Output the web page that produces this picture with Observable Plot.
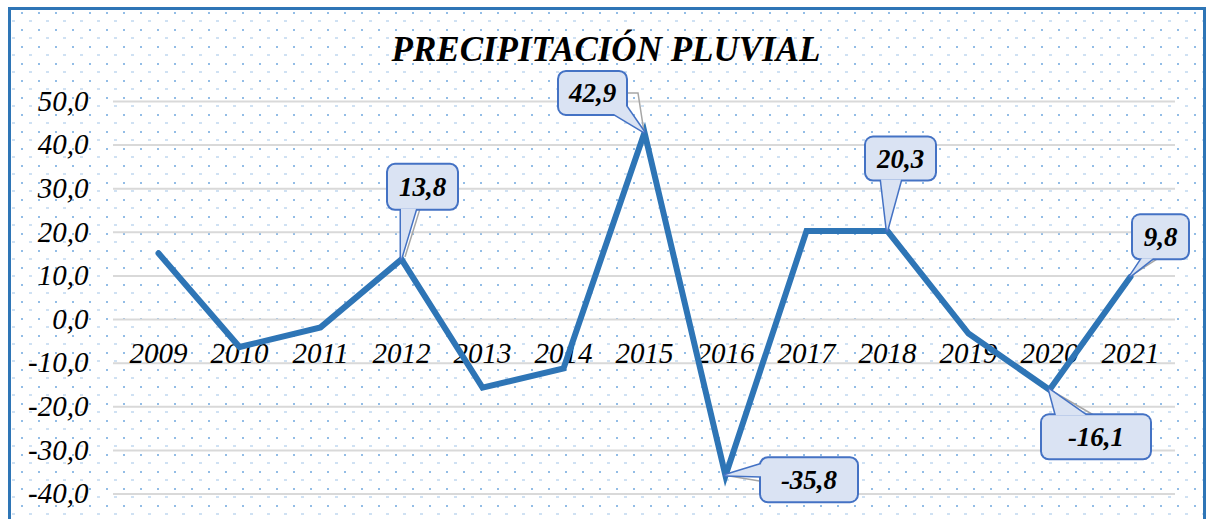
<!DOCTYPE html>
<html><head><meta charset="utf-8">
<script src="https://cdn.jsdelivr.net/npm/d3@7"></script>
<script src="https://cdn.jsdelivr.net/npm/@observablehq/plot@0.6"></script>
<style>
html,body{margin:0;padding:0;background:#fff;width:1208px;height:519px;overflow:hidden;}
#frame{position:absolute;left:8px;top:7px;width:1198px;height:560px;box-sizing:border-box;border:3px solid #2E75B6;
background-image:url("data:image/svg+xml,%3Csvg xmlns='http://www.w3.org/2000/svg' width='17' height='17'%3E%3Crect x='3' y='2' width='2' height='2' fill='%2393bde6'/%3E%3Crect x='11' y='10.5' width='3' height='1' fill='%239fc3e8'/%3E%3C/svg%3E");
background-position:7px 0;}
#chart{position:absolute;left:0;top:0;}
#title{position:absolute;left:0;width:1212px;top:31.5px;text-align:center;font:italic bold 35px/1 "Liberation Serif","Times New Roman",serif;color:#000;}
</style></head><body>
<div id="frame"></div>
<div id="chart"></div>
<div id="title">PRECIPITACIÓN PLUVIAL</div>
<script>
const years = [2009, 2010, 2011, 2012, 2013, 2014, 2015, 2016, 2017, 2018, 2019, 2020, 2021];
const values = [15.2, -6.3, -1.8, 13.8, -15.6, -11.2, 42.9, -35.8, 20.3, 20.3, -3.2, -16.1, 9.8];
const yTicks = [50, 40, 30, 20, 10, 0, -10, -20, -30, -40];
const labeledYears = [2012, 2015, 2016, 2018, 2020, 2021];

const data = years.map((year, i) => ({year, value: values[i]}));
const fmt = v => v.toFixed(1).replace(".", ",");
const serif = '"Liberation Serif","Times New Roman",serif';

// callout layout (pixel offsets relative to the data point) — styling only
const calloutLayout = {
  2012: {box: [-13, -94, 69, 44], tail: [[0, -50], [15, -50]], leader: [[4, -2], [19, -50]]},
  2015: {box: [-85, -60, 67, 42], tail: [[-30, -18], [-18, -26]], leader: [[0, 0], [-6, -39], [-18, -39]]},
  2016: {box: [36, -17, 96, 43], tail: [[36, -11], [36, 1]], leader: [[0, 0], [36, 6]]},
  2018: {box: [-21, -93, 69, 42], tail: [[-6, -51], [14, -51]], leader: [[0, 0], [13, -51]]},
  2020: {box: [-7, 26, 108, 43], tail: [[7, 26], [37, 26]], leader: [[0, 0], [45, 26]]},
  2021: {box: [3, -61, 55, 43], tail: [[12, -18], [23, -18]], leader: [[0, 0], [28, -18]]}
};

function callouts(index, scales) {
  const g = d3.create("svg:g");
  const pts = labeledYears.map(yr => {
    const d = data.find(e => e.year === yr);
    return {d, px: scales.x(yr), py: scales.y(d.value), L: calloutLayout[yr]};
  });
  for (const p of pts) {
    g.append("polyline")
      .attr("points", p.L.leader.map(([a, b]) => `${p.px + a},${p.py + b}`).join(" "))
      .attr("fill", "none").attr("stroke", "#a6a6a6").attr("stroke-width", 1.5);
  }
  for (const p of pts) {
    const [bx, by, bw, bh] = p.L.box;
    const cg = g.append("g").attr("transform", `translate(${p.px},${p.py})`);
    const tailPts = `0,0 ${p.L.tail[0].join(",")} ${p.L.tail[1].join(",")}`;
    cg.append("rect").attr("x", bx).attr("y", by).attr("width", bw).attr("height", bh)
      .attr("rx", 7).attr("fill", "none").attr("stroke", "#4472C4").attr("stroke-width", 4);
    cg.append("polygon").attr("points", tailPts).attr("fill", "none")
      .attr("stroke", "#4472C4").attr("stroke-width", 3).attr("stroke-linejoin", "round");
    cg.append("rect").attr("x", bx).attr("y", by).attr("width", bw).attr("height", bh)
      .attr("rx", 7).attr("fill", "#DAE3F3");
    cg.append("polygon").attr("points", tailPts).attr("fill", "#DAE3F3");
    cg.append("text").attr("x", bx + bw / 2).attr("y", by + bh / 2).attr("dy", "0.35em")
      .attr("text-anchor", "middle").attr("font-family", serif).attr("font-size", 27)
      .attr("font-style", "italic").attr("font-weight", "bold").attr("fill", "#000")
      .text(fmt(p.d.value));
  }
  return g.node();
}

const chart = Plot.plot({
  width: 1208,
  height: 519,
  marginLeft: 113,
  marginRight: 33,
  marginTop: 101,
  marginBottom: 25.5,
  style: {background: "transparent", overflow: "visible"},
  x: {type: "point", domain: years, padding: 0.5, axis: null},
  y: {domain: [-40, 50], axis: null},
  marks: [
    Plot.ruleY(yTicks, {stroke: "#d9d9d9", strokeWidth: 2}),
    Plot.text(yTicks, {y: d => d, text: d => fmt(d), frameAnchor: "left", textAnchor: "end", dx: -25,
      fontSize: 29, fontStyle: "italic", fontFamily: serif, fill: "#000"}),
    Plot.text(years, {x: d => d, y: () => 0, text: d => String(d), dy: 34,
      fontSize: 29, fontStyle: "italic", fontFamily: serif, fill: "#000"}),
    Plot.line(data, {x: "year", y: "value", stroke: "#2E75B6", strokeWidth: 6,
      strokeLinejoin: "miter", strokeMiterlimit: 10, strokeLinecap: "round"}),
    callouts
  ]
});
document.getElementById("chart").appendChild(chart);
</script>
</body></html>
